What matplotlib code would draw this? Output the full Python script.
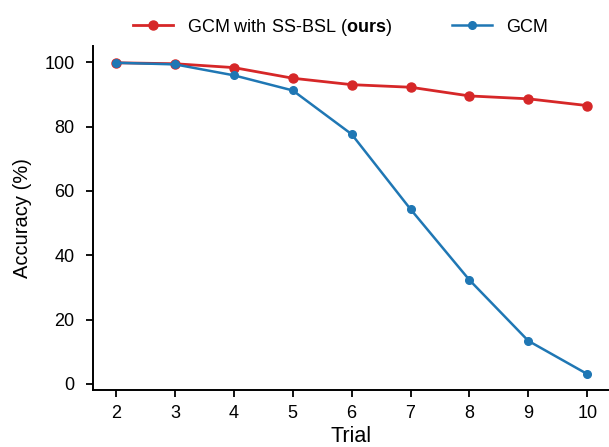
import matplotlib
matplotlib.use("Agg")
import matplotlib.pyplot as plt

plt.rcParams['font.family'] = ['Liberation Sans', 'DejaVu Sans']
plt.rcParams['mathtext.fontset'] = 'custom'
plt.rcParams['mathtext.rm'] = 'Liberation Sans'
plt.rcParams['mathtext.bf'] = 'Liberation Sans:bold'

# Daten
trials = [2, 3, 4, 5, 6, 7, 8, 9, 10]
acc_ours = [99.8, 99.5, 98.3, 95.0, 93.0, 92.2, 89.5, 88.6, 86.5]
acc_gcm = [99.8, 99.3, 95.9, 91.2, 77.6, 54.3, 32.3, 13.4, 3.1]

fig = plt.figure(figsize=(6.09, 4.47), dpi=100)
ax = fig.add_axes([0.152, 0.128, 0.848, 0.769])

ax.plot(trials, acc_ours, color='#d62728', marker='o', markersize=6.5, linewidth=2.0,
        label=r'GCM with SS-BSL ($\mathbf{ours}$)')
ax.plot(trials, acc_gcm, color='#1f77b4', marker='o', markersize=5.5, linewidth=1.8,
        label='GCM')

ax.set_xlim(1.6, 10.37)
ax.set_ylim(-1.8, 105)
ax.set_xticks(trials)
ax.set_yticks([0, 20, 40, 60, 80, 100])
ax.tick_params(labelsize=13, length=5, width=1.3)
ax.tick_params(axis='y', pad=8)
ax.tick_params(axis='x', pad=6)
ax.set_xlabel('Trial', fontsize=15.5, labelpad=3)
ax.set_ylabel('Accuracy (%)', fontsize=14.5, labelpad=9)

for s in ['top', 'right']:
    ax.spines[s].set_visible(False)
for s in ['left', 'bottom']:
    ax.spines[s].set_linewidth(1.4)

ax.legend(loc='center', bbox_to_anchor=(0.48, 1.055), ncol=2, frameon=False,
          fontsize=13, columnspacing=3.3, handlelength=2.2, handletextpad=0.8)

fig.savefig('out.png', dpi=100)
